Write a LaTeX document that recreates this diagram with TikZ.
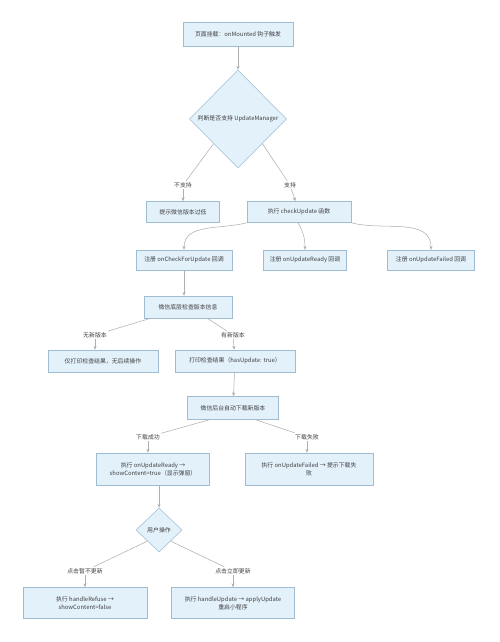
\documentclass[tikz,border=0pt]{standalone}
\usepackage{fontspec}
\setmainfont{Noto Sans CJK SC}
\usepackage{xcolor}
\usetikzlibrary{arrows.meta,shapes.geometric}
\definecolor{boxfill}{HTML}{E3F1FB}
\definecolor{boxline}{HTML}{9FBCD3}
\definecolor{linegray}{HTML}{AFAFAF}
\begin{document}
\begin{tikzpicture}[x=0.02cm, y=-0.02cm, every node/.style={font=\fontsize{3.35}{4.7}\selectfont, text=black!75}, box/.style={draw=boxline, fill=boxfill, line width=0.3pt, align=center, inner sep=1pt, minimum height=0.42cm}, cond/.style={diamond, draw=boxline, fill=boxfill, line width=0.3pt, aspect=1, inner sep=0pt, align=center}, lbl/.style={fill=white, inner sep=0.6pt}, link/.style={draw=linegray, line width=0.3pt}, arr/.style={link, -{Stealth[length=2.2pt, width=1.8pt]}}]
\useasboundingbox[fill=white] (0,0) rectangle (500,642);
% boxes
\node[box, minimum width=2.2cm, minimum height=0.48cm] (mount) at (238,34) {页面挂载：onMounted 钩子触发};
\node[cond, minimum width=1.94cm, minimum height=1.96cm] (judge) at (238,119) {判断是否支持 UpdateManager};
\node[box, minimum width=1.46cm] (low) at (183,212) {提示微信版本过低};
\node[box, minimum width=2.08cm] (check) at (299,212) {执行 checkUpdate 函数};
\node[box, minimum width=1.92cm, minimum height=0.4cm] (regA) at (184,260) {注册 onCheckForUpdate 回调};
\node[box, minimum width=1.66cm, minimum height=0.4cm] (regB) at (305,260) {注册 onUpdateReady 回调};
\node[box, minimum width=1.74cm, minimum height=0.4cm] (regC) at (431,260) {注册 onUpdateFailed 回调};
\node[box, minimum width=1.76cm, minimum height=0.44cm] (native) at (188,307) {微信底层检查版本信息};
\node[box, minimum width=2.2cm, minimum height=0.44cm] (nonewbox) at (103,361) {仅打印检查结果，无后续操作};
\node[box, minimum width=2.4cm, minimum height=0.44cm] (hasnewbox) at (235,361) {打印检查结果（hasUpdate: true）};
\node[box, minimum width=1.82cm, minimum height=0.46cm] (download) at (233,408) {微信后台自动下载新版本};
\node[box, minimum width=2.26cm, minimum height=0.64cm] (ready) at (153,469) {执行 onUpdateReady →\\showContent=true（显示弹窗）};
\node[box, minimum width=2.56cm, minimum height=0.64cm] (failed) at (309,469) {执行 onUpdateFailed → 提示下载失\\败};
\node[cond, minimum width=0.92cm, minimum height=0.88cm] (user) at (159,530) {用户操作};
\node[box, minimum width=2.48cm, minimum height=0.62cm] (refuse) at (85,603) {执行 handleRefuse →\\showContent=false};
\node[box, minimum width=2.46cm, minimum height=0.62cm] (apply) at (233,603) {执行 handleUpdate → applyUpdate\\重启小程序};
% edge labels
\node[lbl] (nosup) at (183,185) {不支持};
\node[lbl] (sup) at (290,185) {支持};
\node[lbl] (nonew) at (95,335) {无新版本};
\node[lbl] (hasnew) at (233,335) {有新版本};
\node[lbl] (ok) at (148,437) {下载成功};
\node[lbl] (fail) at (307,437) {下载失败};
\node[lbl] (later) at (85,571) {点击暂不更新};
\node[lbl] (now) at (233,571) {点击立即更新};
% connectors
\draw[arr] (mount) -- (judge);
\draw[link] (judge.south west) -- (nosup);
\draw[arr] (nosup) -- (low);
\draw[link] (judge.south east) -- (sup);
\draw[arr] (sup) -- (check);
\draw[arr] (check.south west) to[out=195, in=90] (regA.north);
\draw[arr] ([xshift=-0.02cm]check.south) to[out=-60, in=90] (regB.north);
\draw[arr] (check.south east) to[out=-15, in=90] (regC.north);
\draw[arr] (regA) -- (regA |- native.north);
\draw[link] ([xshift=0.14cm]native.south west) -- (nonew);
\draw[arr] (nonew) -- (nonew |- nonewbox.north);
\draw[link] ([xshift=-0.5cm]native.south east) -- (hasnew);
\draw[arr] (hasnew) -- (hasnewbox);
\draw[arr] (hasnewbox) -- (download);
\draw[link] ([xshift=0.44cm]download.south west) -- (ok);
\draw[arr] (ok) -- (ok |- ready.north);
\draw[link] ([xshift=-0.46cm]download.south east) -- (fail);
\draw[arr] (fail) -- (fail |- failed.north);
\draw[arr] (ready.south -| user.north) -- (user.north);
\draw[link] (user.south west) -- (later);
\draw[arr] (later) -- (refuse);
\draw[link] (user.south east) -- (now);
\draw[arr] (now) -- (apply);
\end{tikzpicture}
\end{document}
